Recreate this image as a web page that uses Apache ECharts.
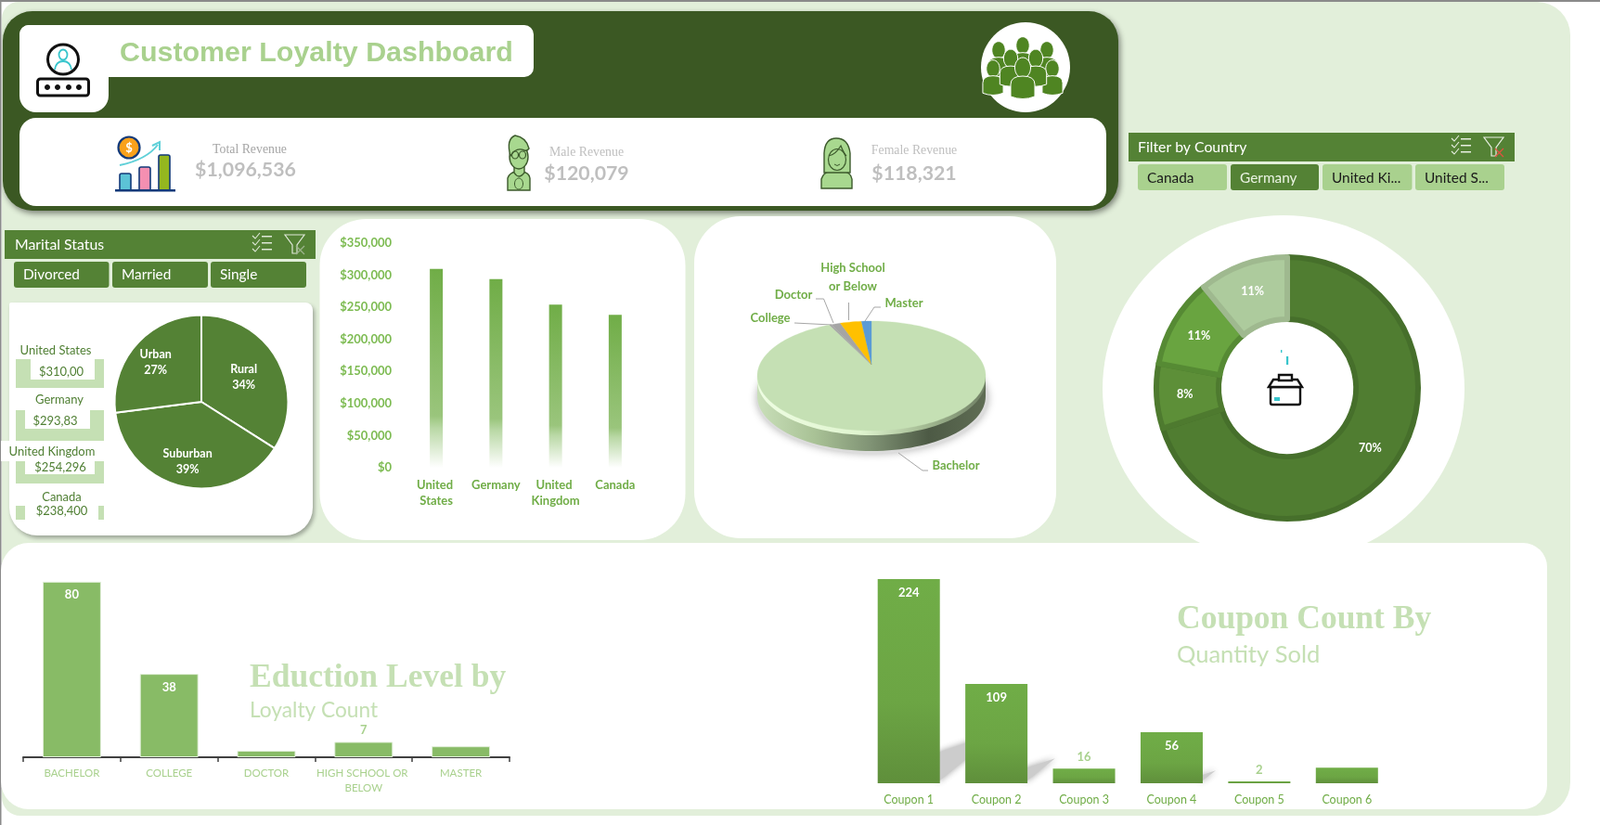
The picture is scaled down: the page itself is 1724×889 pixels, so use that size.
<!DOCTYPE html>
<html><head><meta charset="utf-8">
<style>html,body{margin:0;padding:0;background:#fff;overflow:hidden}#c{width:1724px;height:889px}</style>
<script src="https://cdn.jsdelivr.net/npm/echarts@6/dist/echarts.min.js"></script>
</head><body><div id="c"></div>
<script>
// ---------- data ----------
const dashboardTitle = 'Customer Loyalty Dashboard';
const kpiNames = ['Total Revenue', 'Male Revenue', 'Female Revenue'];
const kpiValues = ['$1,096,536', '$120,079', '$118,321'];
const countryFilter = ['Canada', 'Germany', 'United Ki...', 'United S...'];
const maritalFilter = ['Divorced', 'Married', 'Single'];
const listCountries = ['United States', 'Germany', 'United Kingdom', 'Canada'];
const listAmounts = ['$310,00', '$293,83', '$254,296', '$238,400'];
const areaNames = ['Rural', 'Suburban', 'Urban'];
const areaValues = [34, 39, 27];
const revenueCountries = ['United States', 'Germany', 'United Kingdom', 'Canada'];
const revenueValues = [310000, 293830, 254296, 238400];
const eduPieNames = ['Bachelor', 'College', 'Doctor', 'High School or Below', 'Master'];
const eduPieValues = [94, 0.3, 1.3, 3, 1.4];
const donutValues = [70, 8, 11, 11];
const eduCategories = ['BACHELOR', 'COLLEGE', 'DOCTOR', 'HIGH SCHOOL OR BELOW', 'MASTER'];
const eduValues = [80, 38, 3, 7, 5];
const eduLabelMode = ['in', 'in', 'none', 'out', 'none'];
const couponCategories = ['Coupon 1', 'Coupon 2', 'Coupon 3', 'Coupon 4', 'Coupon 5', 'Coupon 6'];
const couponValues = [224, 109, 16, 56, 2, 17];
const couponLabelMode = ['in', 'in', 'out', 'in', 'out', 'none'];

// ---------- drawing helpers ----------
const UI = 'Lato, "Noto Sans", sans-serif';
const LG = (x0, y0, x1, y1, s) => new echarts.graphic.LinearGradient(x0, y0, x1, y1, s.map((c, i) => ({offset: c[0], color: c[1]})));
const G = [];
let pathCount = 0;
const R = (x, y, w, h, fill, r, extra) => G.push({type: 'rect', silent: true, shape: {x, y, width: w, height: h, r: r || 0}, style: Object.assign({fill}, extra || {})});
const E = (cx, cy, rx, ry, fill, stroke, lw, extra) => G.push({type: 'ellipse', silent: true, shape: {cx, cy, rx, ry}, style: Object.assign({fill: fill || 'none', stroke: stroke || 'none', lineWidth: lw || 0}, extra || {})});
const P = (d, fill, stroke, lw) => {
  const name = 'iconPath' + (pathCount++);
  echarts.graphic.registerShape(name, echarts.graphic.extendPath(d, {}));
  G.push({type: name, silent: true, style: {fill: fill || 'none', stroke: stroke || 'none', lineWidth: lw || 0}});
};
const T = (text, x, y, font, fill, align) => G.push({type: 'text', silent: true, style: {text, x, y, font, fill, align: align || 'center', verticalAlign: 'middle'}});

// ---------- page frame ----------
R(0, 0, 1724, 889, '#ffffff');
R(2, 2, 1690, 877, '#e2efda', [18, 36, 36, 20]);
R(0, 0, 1724, 2, '#8a8a8a');
R(0, 0, 1.5, 889, '#8a8a8a');

// ---------- banner ----------
R(3, 12, 1202, 215, '#3b5823', 32, {shadowBlur: 6, shadowColor: 'rgba(0,0,0,0.45)', shadowOffsetX: 2, shadowOffsetY: 3});
R(21, 27, 554, 56, '#ffffff', 10);
R(21, 27, 96, 94, '#ffffff', [10, 0, 18, 18]);
R(21, 127, 1171, 95, '#ffffff', 18);
T(dashboardTitle, 129, 58, 'bold 30.4px "Liberation Sans", Arial, sans-serif', '#a9d18e', 'left');
E(1105, 72.5, 48, 48.5, '#ffffff');

// user + password icon
E(68, 64, 16.5, 16, '#ffffff', '#111', 3);
E(68, 59, 4.5, 5.5, 'none', '#37c5cc', 1.8);
P('M59 75 C60 68 64 66 68 66 C72 66 76 68 77 75', 'none', '#37c5cc', 1.8);
R(40.5, 85, 55, 18, '#ffffff', 3, {stroke: '#111', lineWidth: 3});
[51, 62, 74, 85].forEach(x => { E(x, 94, 3, 3, '#111'); });

// people cluster icon
const person = (x, y, s) => {
  E(x, y, 8.5 * s, 11 * s, '#4f8522', '#ffffff', 1);
  P(`M${x - 13 * s} ${y + 31 * s} L${x - 13 * s} ${y + 18 * s} Q${x - 13 * s} ${y + 9 * s} ${x} ${y + 9 * s} Q${x + 13 * s} ${y + 9 * s} ${x + 13 * s} ${y + 18 * s} L${x + 13 * s} ${y + 31 * s} Q${x} ${y + 36 * s} ${x - 13 * s} ${y + 31 * s} Z`, '#4f8522', '#ffffff', 1);
};
person(1128, 54, 0.85); person(1076, 54, 0.85); person(1102, 49, 0.85);
person(1134, 74, 0.85); person(1070, 74, 0.85);
person(1089, 63, 0.9); person(1116, 63, 0.9);
person(1102, 73, 1);

// KPI texts
const kpiSmall = '13.8px "Liberation Serif", serif', kpiBig = 'bold 21.3px ' + UI;
T(kpiNames[0], 269, 161, kpiSmall, '#a6a6a6');
T(kpiValues[0], 264.5, 183, kpiBig, '#bfbfbf');
T(kpiNames[1], 632, 164, kpiSmall, '#bfbfbf');
T(kpiValues[1], 632, 187, kpiBig, '#bfbfbf');
T(kpiNames[2], 985, 162, kpiSmall, '#bfbfbf');
T(kpiValues[2], 985, 187, kpiBig, '#bfbfbf');

// revenue icon
R(129, 187, 12, 18, '#5cc3d6', [2, 2, 0, 0], {stroke: '#123a7a', lineWidth: 1.6});
R(150, 180, 12, 25, '#f48fb1', [2, 2, 0, 0], {stroke: '#123a7a', lineWidth: 1.6});
R(171, 167, 12, 38, '#94b71f', [2, 2, 0, 0], {stroke: '#123a7a', lineWidth: 1.6});
R(124, 204, 65, 2.4, '#123a7a');
E(139, 159, 11.5, 11.5, '#f9a11b', '#123a7a', 2.2);
T('$', 139, 159.5, 'bold 13px ' + UI, '#ffffff');
P('M129 178 Q158 172 170 156', 'none', '#5fd0d8', 2);
P('M164 157 L172 153 L172 162', 'none', '#5fd0d8', 2);

// male icon
const skin = '#a8d88f', line = '#3c5a2c';
P('M547 205 L547 192 Q549 186 556 185 L563 185 Q570 186 571 192 L571 205 Z', skin, line, 1.4);
P('M554 170 L565 170 L565 186 Q559 194 554 186 Z', skin, line, 1.4);
E(559, 169, 10, 13, skin, line, 1.4);
P('M550 168 Q545 150 555 146 Q567 148 570 160 Q568 163 565 162 Q556 158 550 168 Z', skin, line, 1.4);
E(555, 167, 3.5, 4, 'none', line, 1.2); E(563, 167, 3.5, 4, 'none', line, 1.2);
E(559, 198, 4.5, 6, 'none', line, 1);

// female icon
P('M885 203 L885 193 Q887 186 896 183 L907 183 Q917 186 918 193 L918 203 Z', skin, line, 1.4);
P('M888 186 L888 165 Q889 149 901 149 Q914 149 916 165 L916 186 Z', skin, line, 1.4);
E(902, 172, 9.5, 11.5, skin, line, 1.2);
P('M893 168 Q900 167 906 157 Q909 165 912 168', 'none', line, 1.2);
P('M899 177 Q902 180 905 177', 'none', line, 1);

// ---------- slicers ----------
const slicerIcons = (cx, fx, y, white, red) => {
  [0, 7, 14].forEach(d => {
    P(`M${cx} ${y + d + 1} l3 3 l5 -6`, 'none', white, 1.1);
    R(cx + 10, y + d + 1, 11, 1.5, white);
  });
  P(`M${fx} ${y} h21 l-8 11 v9 h-5 v-9 Z`, 'none', white, 1.2);
  P(`M${fx + 12} ${y + 12} l9 9 M${fx + 21} ${y + 12} l-9 9`, 'none', red, 1.3);
};
const headFont = '15.8px ' + UI, btnFont = '15.4px ' + UI;
R(1216, 143, 416, 31, '#548235');
T('Filter by Country', 1226, 159, headFont, '#ffffff', 'left');
slicerIcons(1564, 1599, 148, '#e8efe2', '#e0523f');
[[1226, 96], [1326, 95], [1425, 96.5], [1525, 96]].forEach((b, i) => {
  const sel = i === 1;
  R(b[0], 177, b[1], 28, sel ? '#548235' : '#a9d18e', 3);
  T(countryFilter[i], b[0] + 10, 192, btnFont, sel ? '#eaf3e3' : '#1a1a1a', 'left');
});
R(5, 248, 335, 31, '#548235');
T('Marital Status', 16, 264, headFont, '#ffffff', 'left');
slicerIcons(272, 307, 253, '#dfe8d8', '#9db38c');
[[15, 102.5], [121, 103], [227, 103]].forEach((b, i) => {
  R(b[0], 282, b[1], 28, '#548235', 3);
  T(maritalFilter[i], b[0] + 10, 296, btnFont, '#ffffff', 'left');
});

// ---------- panels ----------
R(10, 326, 327, 251, '#ffffff', [2, 8, 30, 30], {shadowBlur: 4, shadowColor: 'rgba(0,0,0,0.3)', shadowOffsetX: 2, shadowOffsetY: 3});
R(344.5, 236, 394, 346, '#ffffff', 50);
R(748, 233, 390, 347, '#ffffff', 50);
E(1383, 419, 195, 187, '#ffffff');
R(1, 585, 1666, 287, '#ffffff', [30, 26, 26, 30]);

// ---------- country list ----------
const listFont = '13px ' + UI, listInk = '#4f7f33', tint = '#c5e0b4';
R(17, 387, 95, 31, tint); R(33, 387, 69, 22, '#ffffff');
R(17, 442, 95, 33, tint); R(27, 442, 70, 20, '#ffffff');
R(1, 475, 112, 22, '#ffffff');
R(17, 497, 95, 24, tint); R(27, 497, 75, 14, '#ffffff');
R(17, 545, 10, 15, tint); R(106, 545, 6, 15, tint);
[[60, 378], [64, 431], [56, 487], [66.5, 536]].forEach((p, i) => T(listCountries[i], p[0], p[1], listFont, listInk));
[[66, 401], [59.5, 454], [65, 504], [66.5, 551]].forEach((p, i) => T(listAmounts[i], p[0], p[1], listFont, listInk));

// ---------- education pie: 3D body and call-outs ----------
const pc = {x: 939, y: 405, rx: 123, ry: 59, ax: 939, ay: 393, depth: 22};
E(pc.x + 1, pc.y + pc.depth + 2, pc.rx + 2, pc.ry + 1, '#dcdcdc', 'none', 0, {shadowBlur: 8, shadowColor: 'rgba(0,0,0,0.28)'});
const sideFill = () => LG(0, 0, 1, 0, [[0, '#c9dfb9'], [0.25, '#a9c296'], [0.5, '#7f9274'], [0.75, '#4d5a45'], [1, '#5f6d54']]);
E(pc.x, pc.y + pc.depth, pc.rx, pc.ry, sideFill());
R(pc.x - pc.rx, pc.y, pc.rx * 2, pc.depth, sideFill());
E(pc.x, pc.y + 5, pc.rx, pc.ry, LG(0, 0, 1, 0, [[0, '#eefde2'], [0.45, '#e0f5d0'], [0.72, '#a6bd95'], [1, '#6f7f64']]));
const calloutFont = 'bold 13px ' + UI, calloutInk = '#70ad47', leader = '#a6a6a6';
T('High School', 919, 289, calloutFont, calloutInk);
T('or Below', 919, 309, calloutFont, calloutInk);
T(eduPieNames[2], 855, 318, calloutFont, calloutInk);
T(eduPieNames[4], 974, 327, calloutFont, calloutInk);
T(eduPieNames[1], 830, 343, calloutFont, calloutInk);
T(eduPieNames[0], 1030, 502, calloutFont, calloutInk);
P('M856 348 L896 350', 'none', leader, 1);
P('M879 322 L887.5 322 L898 348', 'none', leader, 1);
P('M914.5 326 L914.5 345', 'none', leader, 1);
P('M949 331 L942 331 L932 346', 'none', leader, 1);
P('M968 488 L994 507 L1000 507', 'none', leader, 1);

// ---------- donut centre icon ----------
R(1386, 384, 2.2, 9, '#37c5cc'); R(1380, 377, 1.4, 3, '#37c5cc');
R(1369, 417, 32, 19, '#ffffff', 2, {stroke: '#111', lineWidth: 2.4});
P('M1367 417 L1372 409 L1398 409 L1403 417 Z', '#ffffff', '#111', 2.4);
R(1378, 404, 14, 6, '#ffffff', 0, {stroke: '#111', lineWidth: 2.4});
R(1373, 428, 6, 4, '#37c5cc');

// ---------- bottom titles ----------
const bigTitle = 'bold 35.5px "Liberation Serif", serif';
T('Eduction Level by', 269, 731, bigTitle, '#c5e0b4', 'left');
T('Loyalty Count', 269, 766, '22.7px ' + UI, '#c5e0b4', 'left');
T('Coupon Count By', 1268, 668, bigTitle, '#c5e0b4', 'left');
T('Quantity Sold', 1268, 706, '25.5px ' + UI, '#c5e0b4', 'left');

// ---------- chart pieces ----------
const pieColors3d = ['#c5e0b4', '#a5a5a5', '#a5a5a5', '#ffc000', '#5b9bd5'];
const donutStyles = [['#507d31', '#466f2b'], ['#5d8f38', '#4e7a2f'], ['#69a440', '#568a34'], ['#adcb9d', '#9fb98f']];
const eduTotal = eduPieValues.reduce((a, b) => a + b, 0);

const barLabel = (mode, outColor) => mode === 'in'
  ? {show: true, position: 'insideTop', distance: 8, color: '#ffffff', fontFamily: UI, fontWeight: 'bold', fontSize: 13}
  : mode === 'out'
    ? {show: true, position: 'top', distance: 6, color: outColor, fontFamily: UI, fontWeight: 'bold', fontSize: 13}
    : {show: false};

const option = {
  animation: false,
  backgroundColor: 'transparent',
  graphic: {elements: G},
  grid: [
    {left: 438, width: 257, top: 262, height: 242},
    {left: 25, width: 524, top: 579.5, height: 236.5},
    {left: 932, width: 566.5, top: 568, height: 276}
  ],
  xAxis: [
    {type: 'category', gridIndex: 0, data: revenueCountries, axisLine: {show: false}, axisTick: {show: false},
      axisLabel: {color: '#70ad47', fontFamily: UI, fontWeight: 'bold', fontSize: 13, margin: 10, width: 56, overflow: 'break', lineHeight: 17, interval: 0}},
    {type: 'category', gridIndex: 1, data: eduCategories, axisLine: {lineStyle: {color: '#404040', width: 2}},
      axisTick: {show: true, alignWithLabel: false, length: 5, lineStyle: {color: '#404040', width: 1.5}},
      axisLabel: {color: '#a9d18e', fontFamily: UI, fontSize: 11.5, margin: 9, width: 100, overflow: 'break', lineHeight: 16, interval: 0}},
    {type: 'category', gridIndex: 2, data: couponCategories, axisLine: {show: false}, axisTick: {show: false},
      axisLabel: {color: '#70ad47', fontFamily: UI, fontSize: 12.5, margin: 11, interval: 0}}
  ],
  yAxis: [
    {type: 'value', gridIndex: 0, min: 0, max: 350000, interval: 50000, splitLine: {show: false}, axisLine: {show: false}, axisTick: {show: false},
      axisLabel: {color: '#7dbb52', fontFamily: UI, fontWeight: 'bold', fontSize: 13, margin: 16, formatter: v => '$' + v.toLocaleString('en-US')}},
    {type: 'value', gridIndex: 1, min: 0, max: 100, show: false, splitLine: {show: false}},
    {type: 'value', gridIndex: 2, min: 0, max: 281, show: false, splitLine: {show: false}}
  ],
  series: [
    {type: 'pie', center: [217, 433], radius: [0, 93.5], startAngle: 90, clockwise: true, silent: true,
      data: areaNames.map((n, i) => ({name: n, value: areaValues[i]})),
      itemStyle: {color: '#548235', borderColor: '#ffffff', borderWidth: 2},
      label: {show: true, position: 'inner', formatter: '{b}\n{d}%', color: '#ffffff', fontFamily: UI, fontWeight: 'bold', fontSize: 12.5, lineHeight: 17},
      labelLine: {show: false},
      labelLayout: p => [{dx: 2, dy: -3}, {dx: -4, dy: 16}, {dx: -12, dy: -10}][p.dataIndex]},
    {type: 'pie', center: [1387, 418], radius: [74, 141], startAngle: 90, clockwise: true, silent: true,
      data: donutValues.map((v, i) => ({value: v, itemStyle: {color: donutStyles[i][0], borderColor: donutStyles[i][1], borderWidth: 6}})),
      label: {show: true, position: 'inside', formatter: '{d}%', color: '#ffffff', fontFamily: UI, fontWeight: 'bold', fontSize: 12.5},
      labelLine: {show: false}},
    {type: 'custom', coordinateSystem: 'none', silent: true, z: 3, data: eduPieValues,
      renderItem: (params, api) => {
        const i = params.dataIndex;
        const before = eduPieValues.slice(0, i).reduce((a, b) => a + b, 0);
        const a0 = before / eduTotal * 2 * Math.PI, a1 = (before + api.value(0)) / eduTotal * 2 * Math.PI;
        const pts = [[pc.ax, pc.ay]];
        const steps = Math.max(2, Math.ceil((a1 - a0) / 0.03));
        for (let k = 0; k <= steps; k++) {
          const a = a0 + (a1 - a0) * k / steps;
          pts.push([pc.x + pc.rx * Math.sin(a), pc.y - pc.ry * Math.cos(a)]);
        }
        return {type: 'polygon', shape: {points: pts}, style: {fill: pieColors3d[i], stroke: pieColors3d[i], lineWidth: 0.3}};
      }},
    {type: 'bar', xAxisIndex: 0, yAxisIndex: 0, barWidth: 14, silent: true, data: revenueValues,
      itemStyle: {color: LG(0, 0, 0, 1, [[0, '#70ad47'], [0.74, '#9ac57c'], [0.8, '#b9d8a5'], [1, '#ffffff']])}},
    {type: 'bar', xAxisIndex: 1, yAxisIndex: 1, barWidth: 63, silent: true,
      data: eduValues.map((v, i) => ({value: v, label: barLabel(eduLabelMode[i], '#a9d18e')})),
      itemStyle: {color: '#88bb66', borderColor: '#e2efda', borderWidth: 1}},
    {type: 'custom', xAxisIndex: 2, yAxisIndex: 2, coordinateSystem: 'cartesian2d', silent: true, z: 1,
      data: couponValues.map((v, i) => [i, v]),
      renderItem: (params, api) => {
        const base = api.coord([api.value(0), 0]), top = api.coord([api.value(0), api.value(1)]);
        const h = (base[1] - top[1]) * 0.25, xr = base[0] + 31;
        if (h < 5) return null;
        return {type: 'polygon', shape: {points: [[xr, base[1] - 1], [xr, base[1] - 0.6 * h], [xr + 1.2 * h, base[1] - h]]},
          style: {fill: '#cccccc', shadowBlur: 7, shadowColor: 'rgba(150,150,150,0.9)'}};
      }},
    {type: 'bar', xAxisIndex: 2, yAxisIndex: 2, barWidth: 67, silent: true, z: 3,
      data: couponValues.map((v, i) => ({value: v, label: barLabel(couponLabelMode[i], '#a9d18e')})),
      itemStyle: {color: LG(0, 0, 0, 1, [[0, '#70ad47'], [0.6, '#6ca544'], [1, '#5f8f3b']])}}
  ]
};
echarts.init(document.getElementById('c'), null, {width: 1724, height: 889}).setOption(option);
</script></body></html>
